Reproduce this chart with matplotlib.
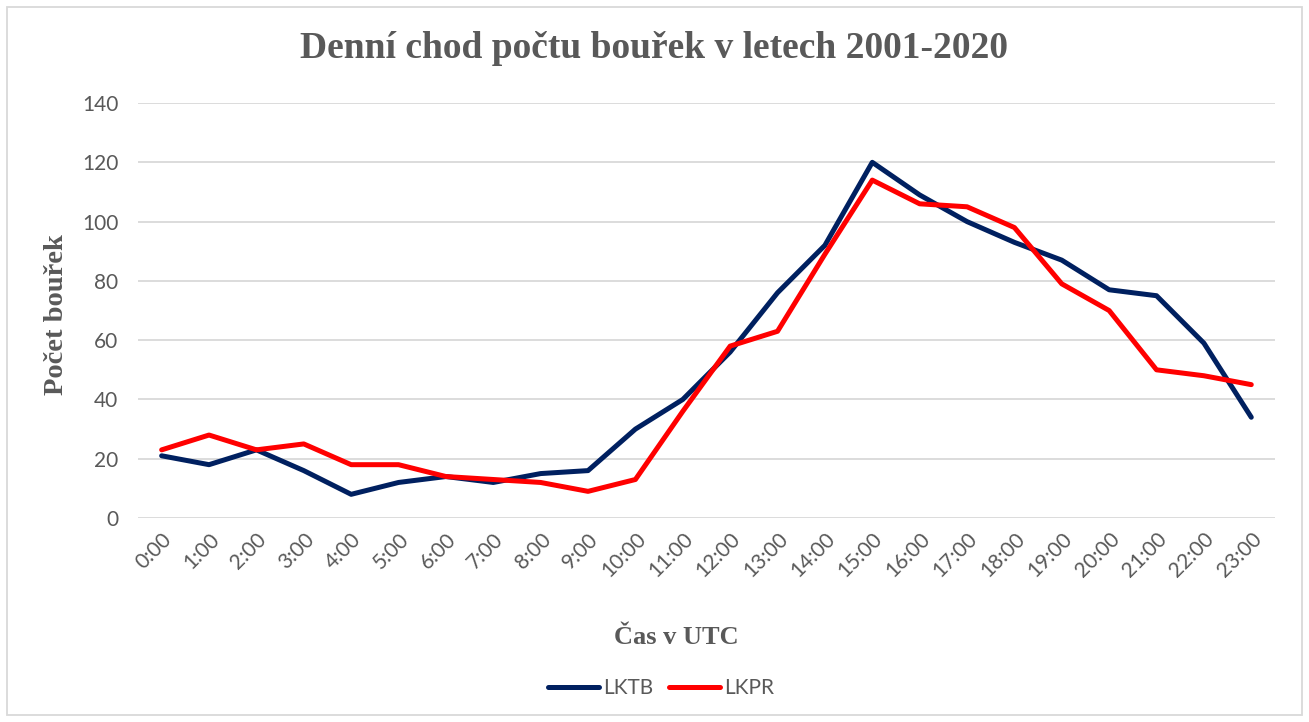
import numpy as np
import matplotlib.pyplot as plt
from matplotlib.patches import Rectangle

# Hodiny a počty bouřek
hodiny = [f"{h}:00" for h in range(24)]
lktb = [21, 18, 23, 16, 8, 12, 14, 12, 15, 16, 30, 40, 56, 76, 92, 120, 109, 100, 93, 87, 77, 75, 59, 34]
lkpr = [23, 28, 23, 25, 18, 18, 14, 13, 12, 9, 13, 36, 58, 63, 89, 114, 106, 105, 98, 79, 70, 50, 48, 45]
y_ticks = [0, 20, 40, 60, 80, 100, 120, 140]

seda = '#595959'
serif = 'Liberation Serif'
sans = 'Lato'

fig = plt.figure(figsize=(13.09, 7.22), dpi=100)
ax = fig.add_axes([0.1054, 0.2825, 0.8686, 0.5748])

x = np.arange(len(hodiny))
ax.plot(x, lktb, color='#002060', lw=3.6, label='LKTB', solid_joinstyle='round', solid_capstyle='round')
ax.plot(x, lkpr, color='#FF0000', lw=3.6, label='LKPR', solid_joinstyle='round', solid_capstyle='round')

ax.set_xlim(-0.5, len(hodiny) - 0.5)
ax.set_ylim(0, 140)
ax.set_yticks(y_ticks)
ax.set_xticks(x)
ax.set_xticklabels(hodiny, rotation=45, ha='right', rotation_mode='anchor')
ax.grid(axis='y', color='#D9D9D9', lw=1.3)
ax.set_axisbelow(True)
for s in ax.spines.values():
    s.set_visible(False)
ax.tick_params(length=0, colors=seda, labelsize=15)
ax.tick_params(axis='y', pad=14)
ax.tick_params(axis='x', pad=8)
for t in ax.get_xticklabels() + ax.get_yticklabels():
    t.set_fontfamily(sans)

fig.text(0.5, 1 - 48 / 722, 'Denní chod počtu bouřek v letech 2001-2020', ha='center', va='center',
         fontsize=27, fontweight='bold', color=seda, family=serif)
fig.text(57 / 1309, 1 - 315 / 722, 'Počet bouřek', rotation=90, ha='center', va='center',
         fontsize=20.5, fontweight='bold', color=seda, family=serif)
fig.text(676 / 1309, 1 - 637 / 722, 'Čas v UTC', ha='center', va='center',
         fontsize=19, fontweight='bold', color=seda, family=serif)

leg = fig.legend(loc='center', bbox_to_anchor=(661 / 1309, 1 - 688 / 722), ncol=2, frameon=False,
                 prop={'family': sans, 'size': 15}, handlelength=2.45, columnspacing=0.75, handletextpad=0.2)
for t in leg.get_texts():
    t.set_color(seda)

fig.patches.append(Rectangle((7 / 1309, 7 / 722), 1 - 14 / 1309, 1 - 14 / 722, transform=fig.transFigure,
                             fill=False, edgecolor='#D9D9D9', lw=1.3))

fig.savefig('out.png', dpi=100)
